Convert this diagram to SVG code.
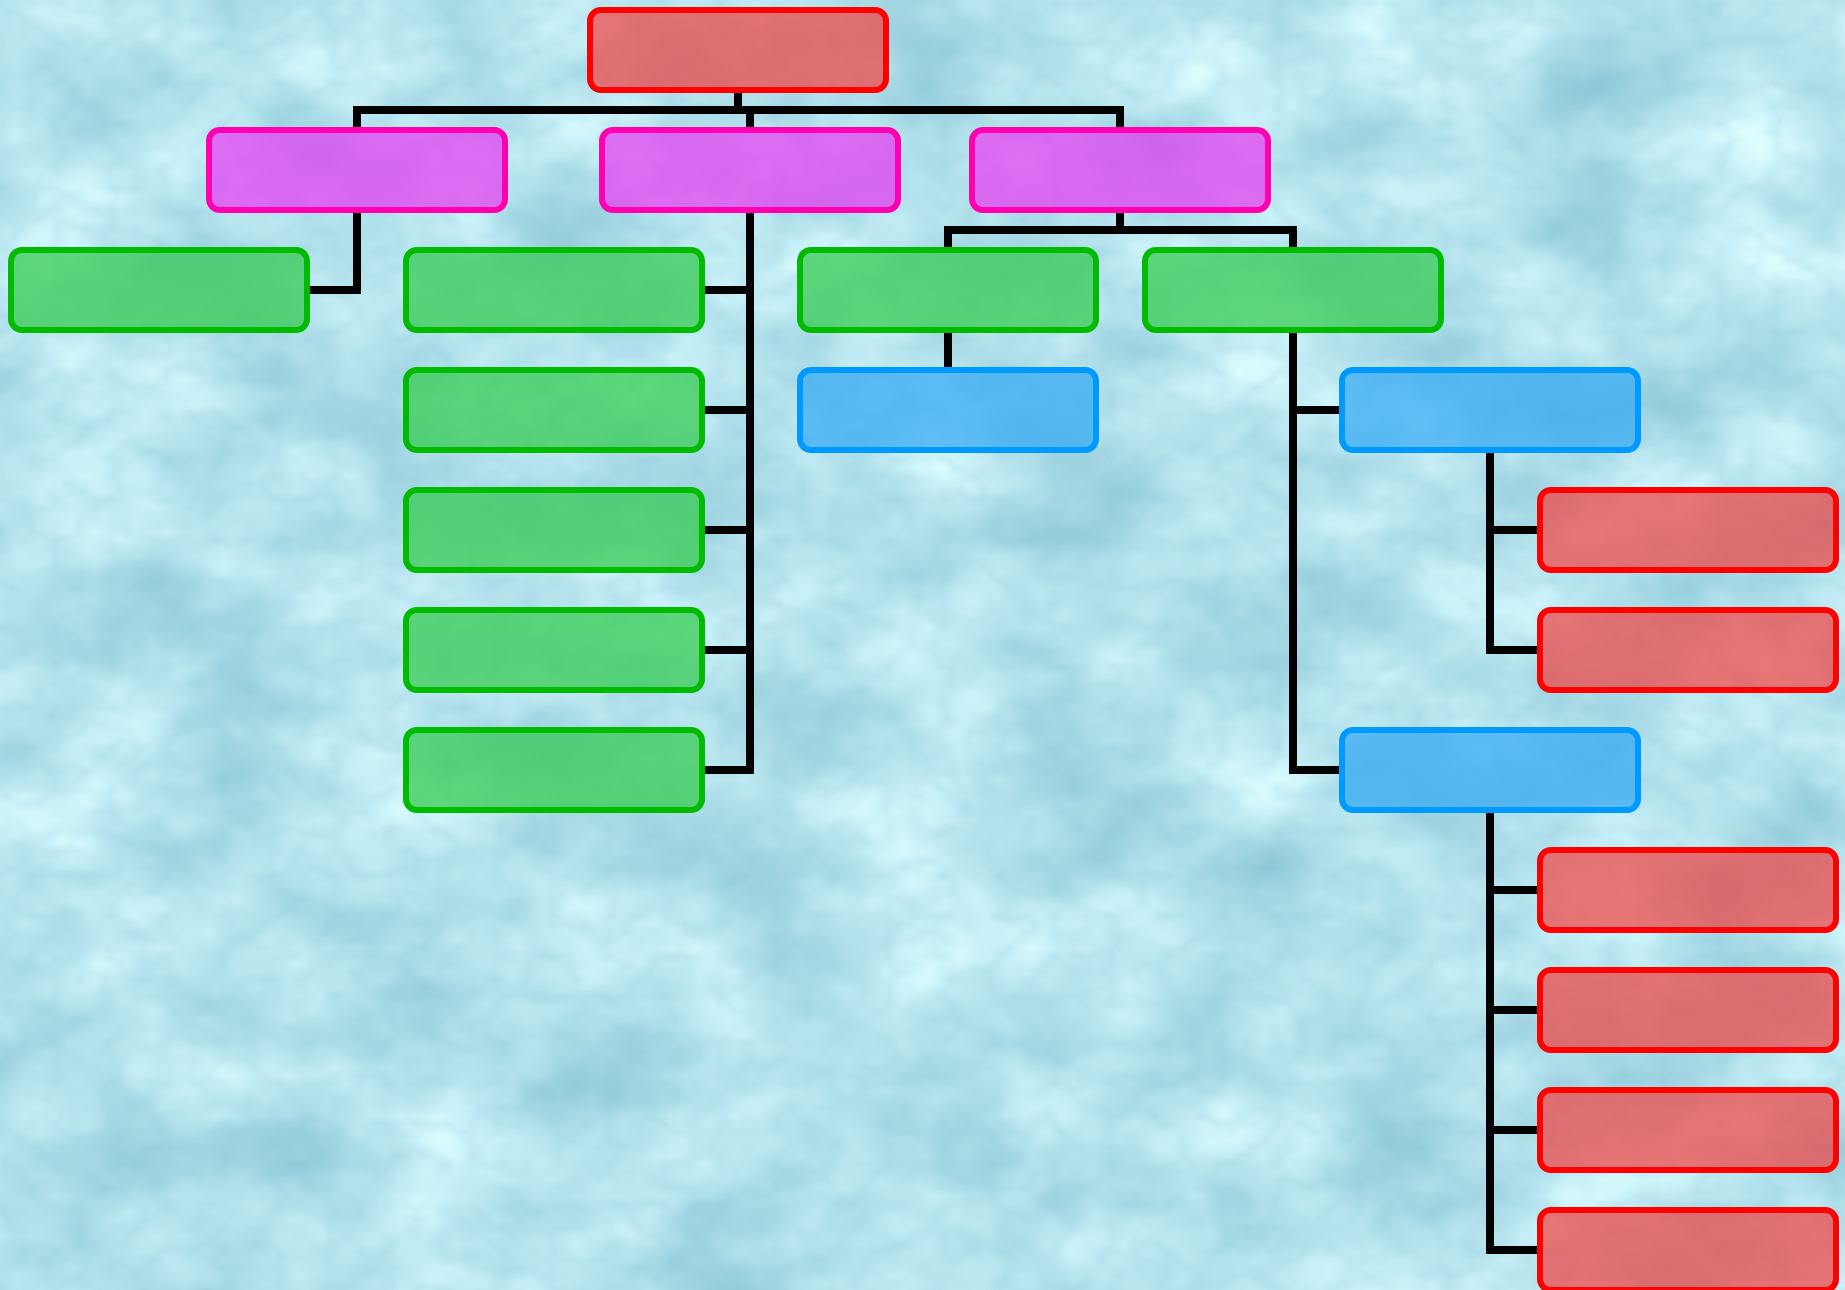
<svg xmlns="http://www.w3.org/2000/svg" width="1845" height="1290" viewBox="0 0 1845 1290">
  <defs>
    <!-- watery backdrop: soft noise mapped into pale cyan tones -->
    <filter id="water" x="0" y="0" width="100%" height="100%" color-interpolation-filters="sRGB">
      <feTurbulence type="fractalNoise" baseFrequency="0.006 0.009" numOctaves="4" seed="7" result="n"/>
      <feColorMatrix in="n" type="matrix"
        values="0.50 0 0 0 0.46
                0.34 0 0 0 0.72
                0.28 0 0 0 0.79
                0 0 0 0 1"/>
    </filter>
    <filter id="drops" x="0" y="0" width="100%" height="100%" color-interpolation-filters="sRGB">
      <feTurbulence type="turbulence" baseFrequency="0.018 0.024" numOctaves="2" seed="3" result="t"/>
      <feColorMatrix in="t" type="matrix"
        values="0 0 0 0 0.55
                0 0 0 0 0.78
                0 0 0 0 0.84
                -1.6 0 0 0 0.55"/>
      <feGaussianBlur stdDeviation="1.5"/>
    </filter>
  </defs>
  <style>
    .box { stroke-width: 6; fill-opacity: 0.72; }
    .red { fill: #f04444; stroke: #ff0000; }
    .pink { fill: #e63cf2; stroke: #ff00b0; }
    .green { fill: #33cb4e; stroke: #00bb00; }
    .blue { fill: #33a8f2; stroke: #0099ff; }
    .wire { fill: none; stroke: #000000; stroke-width: 8; stroke-linejoin: miter; stroke-linecap: butt; }
  </style>

  <!-- background -->
  <rect width="1845" height="1290" fill="#c2ecf4"/>
  <rect width="1845" height="1290" filter="url(#water)" opacity="0.85"/>
  <rect width="1845" height="1290" filter="url(#drops)" opacity="0.4"/>

  <!-- connectors -->
  <g id="connectors" class="wire">
    <path d="M738 93 V110"/>
    <path d="M357 127 V110 H1120 V127"/>
    <path d="M750 110 V127"/>
    <path d="M357 210 V290 H308"/>
    <path d="M750 210 V770 H702"/>
    <path d="M702 290 H750"/>
    <path d="M702 410 H750"/>
    <path d="M702 530 H750"/>
    <path d="M702 650 H750"/>
    <path d="M1120 210 V230"/>
    <path d="M948 247 V230 H1293 V247"/>
    <path d="M948 330 V370"/>
    <path d="M1293 330 V770 H1342"/>
    <path d="M1293 410 H1342"/>
    <path d="M1490 450 V650 H1540"/>
    <path d="M1490 530 H1540"/>
    <path d="M1490 810 V1250 H1540"/>
    <path d="M1490 890 H1540"/>
    <path d="M1490 1010 H1540"/>
    <path d="M1490 1130 H1540"/>
  </g>

  <!-- level 0 -->
  <g id="root"><rect class="box red" x="590" y="10" width="296" height="80" rx="11"/></g>

  <!-- level 1 -->
  <g id="branch-a"><rect class="box pink" x="209" y="130" width="296" height="80" rx="11"/></g>
  <g id="branch-b"><rect class="box pink" x="602" y="130" width="296" height="80" rx="11"/></g>
  <g id="branch-c"><rect class="box pink" x="972" y="130" width="296" height="80" rx="11"/></g>

  <!-- level 2 -->
  <g id="a1"><rect class="box green" x="11" y="250" width="296" height="80" rx="11"/></g>
  <g id="b1"><rect class="box green" x="406" y="250" width="296" height="80" rx="11"/></g>
  <g id="b2"><rect class="box green" x="406" y="370" width="296" height="80" rx="11"/></g>
  <g id="b3"><rect class="box green" x="406" y="490" width="296" height="80" rx="11"/></g>
  <g id="b4"><rect class="box green" x="406" y="610" width="296" height="80" rx="11"/></g>
  <g id="b5"><rect class="box green" x="406" y="730" width="296" height="80" rx="11"/></g>
  <g id="c1"><rect class="box green" x="800" y="250" width="296" height="80" rx="11"/></g>
  <g id="c2"><rect class="box green" x="1145" y="250" width="296" height="80" rx="11"/></g>

  <!-- level 3 -->
  <g id="c1-1"><rect class="box blue" x="800" y="370" width="296" height="80" rx="11"/></g>
  <g id="c2-1"><rect class="box blue" x="1342" y="370" width="296" height="80" rx="11"/></g>
  <g id="c2-2"><rect class="box blue" x="1342" y="730" width="296" height="80" rx="11"/></g>

  <!-- level 4 -->
  <g id="c2-1-1"><rect class="box red" x="1540" y="490" width="296" height="80" rx="11"/></g>
  <g id="c2-1-2"><rect class="box red" x="1540" y="610" width="296" height="80" rx="11"/></g>
  <g id="c2-2-1"><rect class="box red" x="1540" y="850" width="296" height="80" rx="11"/></g>
  <g id="c2-2-2"><rect class="box red" x="1540" y="970" width="296" height="80" rx="11"/></g>
  <g id="c2-2-3"><rect class="box red" x="1540" y="1090" width="296" height="80" rx="11"/></g>
  <g id="c2-2-4"><rect class="box red" x="1540" y="1210" width="296" height="80" rx="11"/></g>
</svg>
